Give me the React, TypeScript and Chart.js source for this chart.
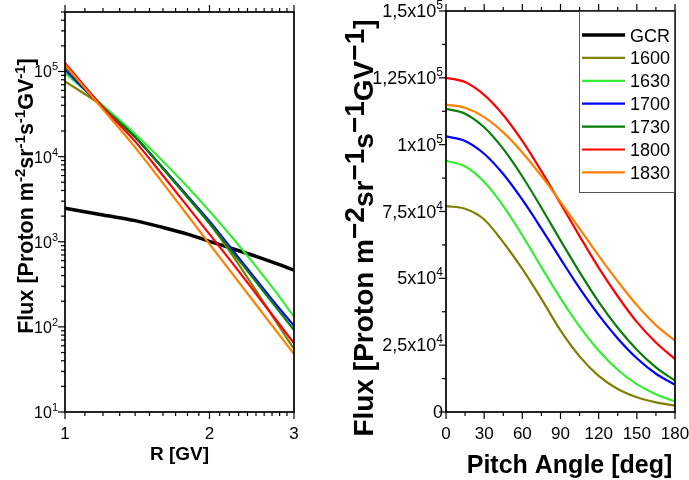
import React, { useEffect, useRef } from 'react';
import { Chart, registerables } from 'chart.js';
Chart.register(...registerables);

// ---------- data ----------
const rigidity = [1, 1.2, 1.4, 1.6, 1.8, 2, 2.25, 2.5, 2.75, 3];
const fluxGCR = [2480, 2060, 1770, 1470, 1230, 1010, 818, 673, 557, 464];
const flux1600 = [76300, 38700, 17100, 7240, 3330, 1630, 652, 267, 116, 55];
const flux1630 = [95800, 39800, 18400, 8830, 4430, 2300, 1064, 514, 258, 132];
const flux1700 = [104700, 37800, 16900, 7350, 3440, 1740, 760, 361, 185, 103];
const flux1730 = [113500, 37800, 17000, 7270, 3350, 1660, 716, 339, 171, 92];
const flux1800 = [125600, 37800, 15100, 6000, 2600, 1230, 532, 245, 122, 64];
const flux1830 = [120000, 35900, 12850, 4890, 2050, 942, 397, 183, 91, 48];

const pitchAngle = [0, 15, 30, 45, 60, 75, 90, 105, 120, 135, 150, 165, 180];
const pa1600 = [77000, 76000, 72000, 63500, 53500, 42300, 30500, 20800, 13500, 8600, 5500, 3600, 2400];
const pa1630 = [94000, 91900, 86100, 77100, 66100, 54200, 42600, 32000, 23000, 15800, 10400, 6600, 4000];
const pa1700 = [103100, 101400, 96600, 89000, 79400, 68600, 57300, 46300, 36300, 27500, 20100, 14300, 10200];
const pa1730 = [113400, 111600, 106500, 98400, 88100, 76400, 64200, 52300, 41200, 31500, 23300, 16700, 11700];
const pa1800 = [125000, 123400, 118600, 111100, 101400, 90100, 78000, 65800, 54000, 43300, 33700, 26000, 19800];
const pa1830 = [115000, 113800, 110300, 104600, 97100, 88300, 78600, 68600, 58500, 48900, 40000, 32500, 26700];

const seriesNames = ['GCR', '1600', '1630', '1700', '1730', '1800', '1830'];
const seriesColors = ['#000000', '#808000', '#33ee33', '#0000ff', '#0a7d0a', '#ff0000', '#ff8000'];

const leftYTicks = [10, 100, 1000, 10000, 100000];
const leftYExp = ['1', '2', '3', '4', '5'];
const leftXTicks = [1, 2, 3];
const leftXLabels = ['1', '2', '3'];

const rightXTicks = [0, 30, 60, 90, 120, 150, 180];
const rightYTicks = [0, 25000, 50000, 75000, 100000, 125000, 150000];
const rightYMant = ['0', '2,5x10', '5x10', '7,5x10', '1x10', '1,25x10', '1,5x10'];
const rightYExp = ['', '4', '4', '4', '5', '5', '5'];

// ---------- helpers ----------
const FF = '"Liberation Sans", Arial, Helvetica, sans-serif';
type Seg = { t: string; size: number; bold?: boolean; dy?: number };
const segFont = (s: Seg) => `${s.bold ? 'bold ' : ''}${s.size}px ${FF}`;

function drawRich(ctx: CanvasRenderingContext2D, segs: Seg[], x: number, y: number, align: 'left' | 'center' | 'right', rot = 0) {
  ctx.save();
  ctx.translate(x, y);
  if (rot) ctx.rotate(rot);
  let w = 0;
  for (const s of segs) { ctx.font = segFont(s); w += ctx.measureText(s.t).width; }
  let cx = align === 'left' ? 0 : align === 'center' ? -w / 2 : -w;
  ctx.textAlign = 'left';
  ctx.textBaseline = 'alphabetic';
  ctx.fillStyle = '#000';
  for (const s of segs) {
    ctx.font = segFont(s);
    ctx.fillText(s.t, cx, s.dy || 0);
    cx += ctx.measureText(s.t).width;
  }
  ctx.restore();
}

function seg(ctx: CanvasRenderingContext2D, x1: number, y1: number, x2: number, y2: number) {
  ctx.beginPath(); ctx.moveTo(x1, y1); ctx.lineTo(x2, y2); ctx.stroke();
}

function fluxTitle(base: number, sup: number, dy: number, minus: string): Seg[] {
  return [
    { t: 'Flux [Proton m', size: base, bold: true },
    { t: minus + '2', size: sup, bold: true, dy },
    { t: 'sr', size: base, bold: true },
    { t: minus + '1', size: sup, bold: true, dy },
    { t: 's', size: base, bold: true },
    { t: minus + '1', size: sup, bold: true, dy },
    { t: 'GV', size: base, bold: true },
    { t: minus + '1', size: sup, bold: true, dy },
    { t: ']', size: base, bold: true },
  ];
}

const leftPlugin = {
  id: 'leftDecor',
  afterDraw(chart: any) {
    const { ctx, chartArea: a, scales } = chart;
    const xs = scales.x, ys = scales.y;
    ctx.save();
    ctx.strokeStyle = '#000';
    ctx.lineWidth = 1.2;
    for (let e = 1; e <= 5; e++) {
      for (let k = 1; k <= 9; k++) {
        const v = k * Math.pow(10, e);
        if (v > ys.max * 1.0001) break;
        const py = ys.getPixelForValue(v);
        seg(ctx, a.left, py, a.left - (k === 1 ? 7 : 4), py);
      }
    }
    for (let b = 1; b <= 2; b++) {
      for (let k = 0; k <= 9; k++) {
        const v = b + k / 10;
        const px = xs.getPixelForValue(v);
        const len = k === 0 ? 7 : 4;
        seg(ctx, px, a.bottom, px, a.bottom + len);
        seg(ctx, px, a.top, px, a.top - len);
      }
    }
    const p3 = xs.getPixelForValue(3);
    seg(ctx, p3, a.bottom, p3, a.bottom + 7);
    seg(ctx, p3, a.top, p3, a.top - 7);
    ctx.lineWidth = 1.7;
    ctx.strokeRect(a.left, a.top, a.right - a.left, a.bottom - a.top);
    leftYTicks.forEach((v, i) => {
      const py = ys.getPixelForValue(v);
      drawRich(ctx, [{ t: '10', size: 16 }, { t: leftYExp[i], size: 11, dy: -7 }], a.left - 7, py + 6, 'right');
    });
    leftXTicks.forEach((v, i) => {
      const px = xs.getPixelForValue(v);
      drawRich(ctx, [{ t: leftXLabels[i], size: 17 }], px, a.bottom + 27, 'center');
    });
    drawRich(ctx, [{ t: 'R [GV]', size: 19, bold: true }], (a.left + a.right) / 2, a.bottom + 48, 'center');
    drawRich(ctx, fluxTitle(21.5, 15, -8, '-'), 33, 196, 'center', -Math.PI / 2);
    ctx.restore();
  },
};

const rightPlugin = {
  id: 'rightDecor',
  afterDraw(chart: any) {
    const { ctx, chartArea: a, scales } = chart;
    const xs = scales.x, ys = scales.y;
    ctx.save();
    ctx.strokeStyle = '#000';
    ctx.lineWidth = 1.2;
    for (let v = 0; v <= 150000; v += 12500) {
      const py = ys.getPixelForValue(v);
      seg(ctx, a.left, py, a.left - (v % 25000 === 0 ? 7 : 4), py);
    }
    for (let v = 0; v <= 180; v += 15) {
      const px = xs.getPixelForValue(v);
      const len = v % 30 === 0 ? 7 : 4;
      seg(ctx, px, a.bottom, px, a.bottom + len);
      seg(ctx, px, a.top, px, a.top - len);
    }
    ctx.lineWidth = 1.7;
    ctx.strokeRect(a.left, a.top, a.right - a.left, a.bottom - a.top);
    rightYTicks.forEach((v, i) => {
      const py = ys.getPixelForValue(v);
      const segs: Seg[] = [{ t: rightYMant[i], size: 18 }];
      if (rightYExp[i]) segs.push({ t: rightYExp[i], size: 12, dy: -8 });
      drawRich(ctx, segs, a.left - 3, py + 6, 'right');
    });
    rightXTicks.forEach((v) => {
      const px = xs.getPixelForValue(v);
      drawRich(ctx, [{ t: String(v), size: 17 }], px, a.bottom + 27, 'center');
    });
    drawRich(ctx, [{ t: 'Pitch Angle [deg]', size: 25, bold: true }], (a.left + a.right) / 2 + 9, a.bottom + 61, 'center');
    drawRich(ctx, fluxTitle(28, 28, -9, '\u2212'), 33, 228, 'center', -Math.PI / 2);
    // legend
    const bx = a.right - 96, by = a.top, bw = 96, bh = 182;
    ctx.fillStyle = '#fff';
    ctx.fillRect(bx, by, bw, bh);
    ctx.strokeStyle = '#555';
    ctx.lineWidth = 1;
    ctx.strokeRect(bx + 0.5, by + 0.5, bw - 1, bh - 1);
    seriesNames.forEach((name, i) => {
      const ry = by + 24 + i * 22.9;
      ctx.strokeStyle = seriesColors[i];
      ctx.lineWidth = i === 0 ? 3.5 : 2.2;
      seg(ctx, bx + 3, ry, bx + 46, ry);
      drawRich(ctx, [{ t: name, size: 18 }], bx + 51, ry + 6.5, 'left');
    });
    ctx.restore();
  },
};

function toXY(xs: number[], ys: number[]) {
  return xs.map((x, i) => ({ x, y: ys[i] }));
}

export default function App() {
  const leftRef = useRef<HTMLCanvasElement>(null);
  const rightRef = useRef<HTMLCanvasElement>(null);

  useEffect(() => {
    const leftSeries = [fluxGCR, flux1600, flux1630, flux1700, flux1730, flux1800, flux1830];
    const left = new Chart(leftRef.current!, {
      type: 'line',
      data: {
        datasets: leftSeries.map((arr, i) => ({
          label: seriesNames[i],
          data: toXY(rigidity, arr),
          borderColor: seriesColors[i],
          borderWidth: i === 0 ? 3.5 : 2.2,
          pointRadius: 0,
          cubicInterpolationMode: 'monotone' as const,
          fill: false,
          order: i === 0 ? 20 : 7 - i,
        })),
      },
      options: {
        responsive: false,
        animation: false,
        events: [],
        layout: { padding: { left: 65, top: 12, right: 46, bottom: 68 } },
        plugins: { legend: { display: false }, tooltip: { enabled: false } },
        scales: {
          x: { type: 'logarithmic', min: 1, max: 3, display: false },
          y: { type: 'logarithmic', min: 10, max: 500000, display: false },
        },
      },
      plugins: [leftPlugin],
    });

    const rightSeries = [pa1600, pa1630, pa1700, pa1730, pa1800, pa1830];
    const right = new Chart(rightRef.current!, {
      type: 'line',
      data: {
        datasets: rightSeries.map((arr, i) => ({
          label: seriesNames[i + 1],
          data: toXY(pitchAngle, arr),
          borderColor: seriesColors[i + 1],
          borderWidth: 2.2,
          pointRadius: 0,
          cubicInterpolationMode: 'monotone' as const,
          fill: false,
          order: 6 - i,
        })),
      },
      options: {
        responsive: false,
        animation: false,
        events: [],
        layout: { padding: { left: 106, top: 11, right: 14, bottom: 68 } },
        plugins: { legend: { display: false }, tooltip: { enabled: false } },
        scales: {
          x: { type: 'linear', min: 0, max: 180, display: false },
          y: { type: 'linear', min: 0, max: 150000, display: false },
        },
      },
      plugins: [rightPlugin],
    });

    return () => { left.destroy(); right.destroy(); };
  }, []);

  return (
    <div style={{ position: 'absolute', left: 0, top: 0, width: 689, height: 480, background: '#fff' }}>
      <canvas ref={leftRef} width={340} height={480} style={{ position: 'absolute', left: 0, top: 0, width: 340, height: 480 }} />
      <canvas ref={rightRef} width={349} height={480} style={{ position: 'absolute', left: 340, top: 0, width: 349, height: 480 }} />
    </div>
  );
}
